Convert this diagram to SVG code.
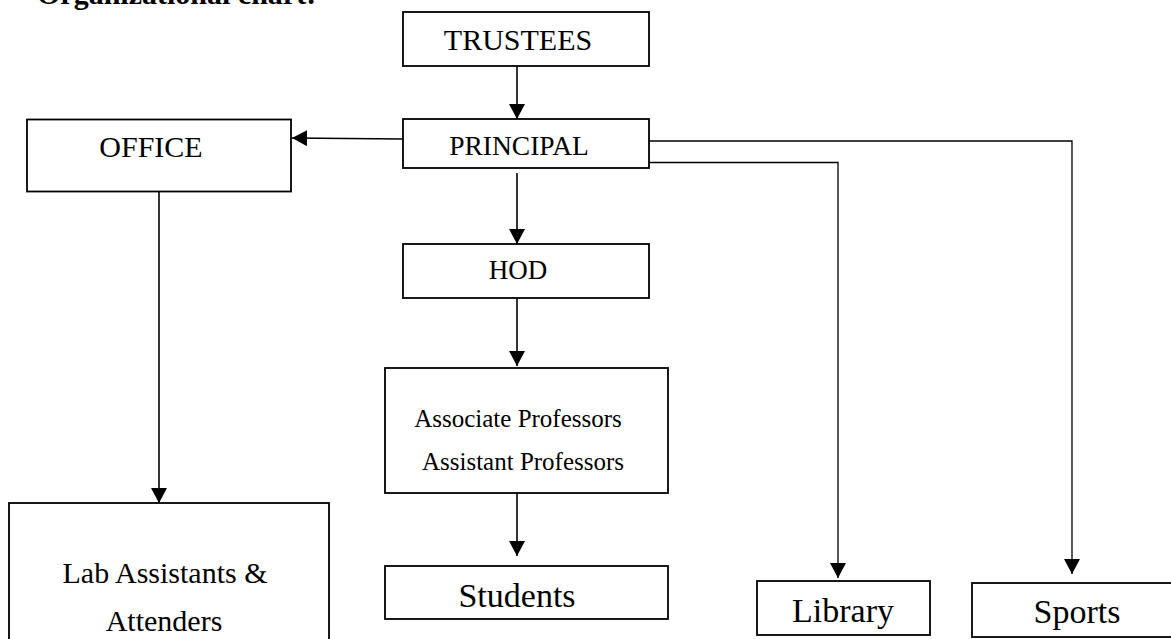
<svg xmlns="http://www.w3.org/2000/svg" width="1171" height="639" viewBox="0 0 1171 639">
<style>
.box{fill:#fff;stroke:#000;stroke-width:1.8}
.t{font-family:"Liberation Serif","Times New Roman",serif;fill:#000;text-anchor:middle}
.c{fill:none;stroke:#000;stroke-width:1.6}
.thin{fill:none;stroke:#000;stroke-width:1.3}
</style>
<defs>
<marker id="ah" markerUnits="userSpaceOnUse" markerWidth="16" markerHeight="16" viewBox="0 0 16 16" refX="15" refY="8" orient="auto">
<path d="M0,0 L15,8 L0,16 Z" fill="#000"/>
</marker>
</defs>
<text x="37" y="4" style="font-family:'Liberation Serif',serif;font-weight:bold;font-size:30px">Organizational chart:</text>
<g id="connectors">
<line class="c" x1="517" y1="66" x2="517" y2="119" marker-end="url(#ah)"/>
<line class="c" x1="403" y1="139" x2="292" y2="138" marker-end="url(#ah)"/>
<line class="c" x1="517" y1="173" x2="517" y2="244" marker-end="url(#ah)"/>
<line class="c" x1="517" y1="293" x2="517" y2="366" marker-end="url(#ah)"/>
<line class="c" x1="517" y1="485" x2="517" y2="556" marker-end="url(#ah)"/>
<line class="c" x1="159" y1="192" x2="159" y2="503" marker-end="url(#ah)"/>
<polyline class="thin" points="649,162.5 838,162.5 838,578" marker-end="url(#ah)"/>
<polyline class="thin" points="647,141 1072,141 1072,574" marker-end="url(#ah)"/>
</g>
<g id="trustees"><rect class="box" x="403" y="12" width="246" height="54"/><text class="t" x="518" y="50" font-size="30">TRUSTEES</text></g>
<g id="principal"><rect class="box" x="403" y="119" width="246" height="49"/><text class="t" x="519" y="155" font-size="27.5">PRINCIPAL</text></g>
<g id="office"><rect class="box" x="27" y="119.5" width="264" height="72"/><text class="t" x="151" y="157" font-size="30">OFFICE</text></g>
<g id="hod"><rect class="box" x="403" y="244" width="246" height="54"/><text class="t" x="518" y="279" font-size="27">HOD</text></g>
<g id="professors"><rect class="box" x="385" y="368" width="283" height="125"/><text class="t" x="518" y="427" font-size="25">Associate Professors</text><text class="t" x="523" y="470" font-size="25">Assistant Professors</text></g>
<g id="students"><rect class="box" x="385" y="566" width="283" height="53"/><text class="t" x="517" y="607" font-size="34">Students</text></g>
<g id="lab"><rect class="box" x="9" y="503" width="320" height="150"/><text class="t" x="165" y="583" font-size="30">Lab Assistants &amp;</text><text class="t" x="164" y="631" font-size="30">Attenders</text></g>
<g id="library"><rect class="box" x="757" y="581" width="173" height="54"/><text class="t" x="843" y="622" font-size="34">Library</text></g>
<g id="sports"><rect class="box" x="972" y="583" width="210" height="54"/><text class="t" x="1077" y="623" font-size="34">Sports</text></g>
</svg>
